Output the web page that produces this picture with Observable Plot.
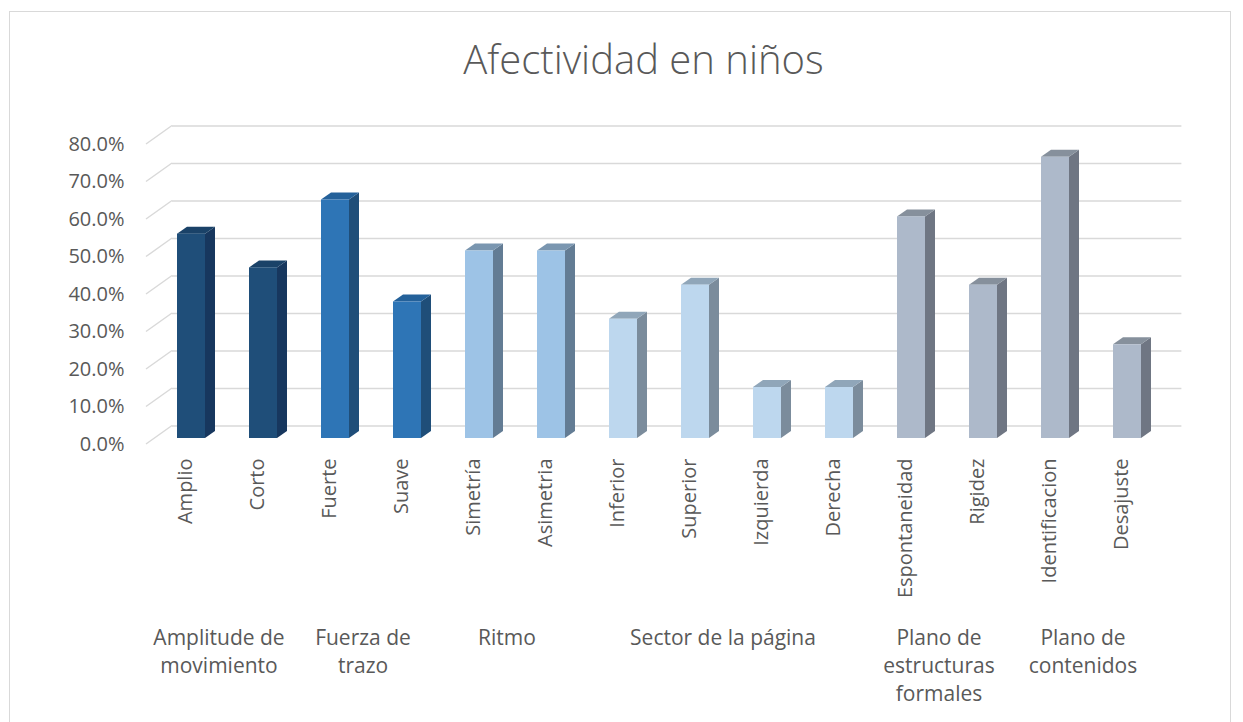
<!DOCTYPE html>
<html>
<head>
<meta charset="utf-8">
<script src="https://cdn.jsdelivr.net/npm/d3@7"></script>
<script src="https://cdn.jsdelivr.net/npm/@observablehq/plot@0.6"></script>
<style>
  html, body { margin: 0; padding: 0; background: #fff; }
  #wrap { position: relative; width: 1243px; height: 722px; overflow: hidden; font-family: "Open Sans", sans-serif; }
  #frame { position: absolute; left: 9px; top: 11px; width: 1222px; height: 800px; border: 1.5px solid #d9d9d9; box-sizing: border-box; pointer-events: none; }
  #head { position: relative; height: 100px; }
  #title { position: absolute; left: 0; top: 39px; width: 1243px; padding-left: 44px; box-sizing: border-box; text-align: center; font-size: 40px; line-height: 40px; color: #595959; font-weight: 300; font-family: "Open Sans", sans-serif; }
  #chart svg { display: block; overflow: visible; }
</style>
</head>
<body>
<div id="wrap">
  <div id="frame"></div>
  <div id="head"><div id="title">Afectividad en niños</div></div>
  <div id="chart"></div>
</div>
<script>
// ---- data ----
const categories = ["Amplio", "Corto", "Fuerte", "Suave", "Simetría", "Asimetria", "Inferior", "Superior", "Izquierda", "Derecha", "Espontaneidad", "Rigidez", "Identificacion", "Desajuste"];
const values = [0.545, 0.455, 0.636, 0.364, 0.50, 0.50, 0.318, 0.409, 0.136, 0.136, 0.591, 0.409, 0.75, 0.25];
const groupNames = ["Amplitude de\nmovimiento", "Fuerza de\ntrazo", "Ritmo", "Sector de la página", "Plano de\nestructuras\nformales", "Plano de\ncontenidos"];
const groupOf = [0, 0, 1, 1, 2, 2, 3, 3, 3, 3, 4, 4, 5, 5];
const yTicks = [0, 0.1, 0.2, 0.3, 0.4, 0.5, 0.6, 0.7, 0.8];

// ---- styles ----
const frontColors = ["#1f4e79", "#2e75b6", "#9dc3e6", "#bdd7ee", "#adb9ca", "#adb9ca"];
const sideColors  = ["#17375e", "#1f4e79", "#637c94", "#7b8c9c", "#6f7683", "#6f7683"];
const topColors   = ["#1a4268", "#24619a", "#7a96b0", "#90a6b9", "#86909c", "#86909c"];
const textColor = "#595959";
const gridColor = "#d9d9d9";
const depthX = 10, depthY = 7;

const data = categories.map((c, i) => ({cat: c, value: values[i], group: groupOf[i]}));

// diagonal stubs of the 3D gridlines (wall to floor edge)
function gridStubs(index, scales, vals, dims) {
  const g = d3.create("svg:g");
  const y = scales.y;
  const x0 = dims.marginLeft;
  for (const t of yTicks) {
    g.append("line")
      .attr("x1", x0 - 9).attr("y1", y(t) + 6)
      .attr("x2", x0 + 17).attr("y2", y(t) - 12.5)
      .attr("stroke", gridColor).attr("stroke-width", 1.5);
  }
  return g.node();
}

// side and top faces of the 3D columns
function columnDepth(index, scales, vals, dims) {
  const g = d3.create("svg:g");
  const x = scales.x, y = scales.y, bw = x.bandwidth();
  data.forEach(d => {
    const xl = x(d.cat), xr = xl + bw, yt = y(d.value), yb = y(0);
    g.append("path")
      .attr("d", `M${xr},${yb}L${xr + depthX},${yb - depthY}L${xr + depthX},${yt - depthY}L${xr},${yt}Z`)
      .attr("fill", sideColors[d.group]);
    g.append("path")
      .attr("d", `M${xl},${yt}L${xl + depthX},${yt - depthY}L${xr + depthX},${yt - depthY}L${xr},${yt}Z`)
      .attr("fill", topColors[d.group]);
  });
  return g.node();
}

// group labels centred under their categories
function groupLabels(index, scales, vals, dims) {
  const g = d3.create("svg:g")
    .attr("font-family", "Open Sans, sans-serif")
    .attr("font-size", 21)
    .attr("fill", textColor)
    .attr("text-anchor", "middle");
  const x = scales.x, y = scales.y, bw = x.bandwidth();
  groupNames.forEach((name, gi) => {
    const cats = categories.filter((c, i) => groupOf[i] === gi);
    const cx = d3.mean(cats, c => x(c) + bw / 2) - 8;
    const text = g.append("text").attr("x", cx).attr("y", y(0) + 207);
    name.split("\n").forEach((line, li) => {
      text.append("tspan").attr("x", cx).attr("dy", li === 0 ? 0 : 28).text(line);
    });
  });
  return g.node();
}

const chart = Plot.plot({
  width: 1243,
  height: 622,
  marginLeft: 155,
  marginRight: 78.6,
  marginTop: 38,
  marginBottom: 284,
  x: {domain: categories, paddingInner: 0.605, paddingOuter: 0.3025, axis: null},
  y: {domain: [0, 0.8], axis: null},
  color: {type: "identity"},
  style: {fontFamily: "Open Sans, sans-serif", color: textColor, background: "transparent", overflow: "visible"},
  marks: [
    Plot.ruleY(yTicks, {y: d => d, dx: 17, dy: -12.5, stroke: gridColor, strokeWidth: 1.5}),
    gridStubs,
    columnDepth,
    Plot.barY(data, {x: "cat", y: "value", fill: d => frontColors[d.group]}),
    Plot.text(yTicks, {y: d => d, text: d => d3.format(".1%")(d), frameAnchor: "left", textAnchor: "end", dx: -31, dy: 6, fontSize: 20, fill: textColor}),
    Plot.text(data, {x: "cat", y: () => 0, text: "cat", rotate: -90, textAnchor: "end", dx: -6, dy: 20, fontSize: 20, fill: textColor}),
    groupLabels
  ]
});
document.getElementById("chart").appendChild(chart);
</script>
</body>
</html>
